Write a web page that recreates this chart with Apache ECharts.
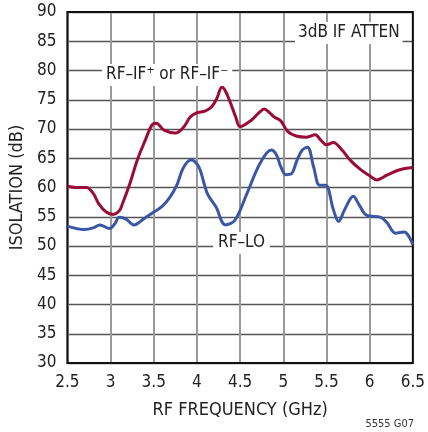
<!DOCTYPE html>
<html>
<head>
<meta charset="utf-8">
<script src="https://cdn.jsdelivr.net/npm/echarts@6/dist/echarts.min.js"></script>
<style>
html,body{margin:0;padding:0;background:#fff;}
#c{width:428px;height:432px;}
</style>
</head>
<body>
<div id="c"></div>
<script>
const xTicks = [2.5, 3, 3.5, 4, 4.5, 5, 5.5, 6, 6.5];
const yTicks = [30, 35, 40, 45, 50, 55, 60, 65, 70, 75, 80, 85, 90];

const rfIfFreq = [2.5, 2.6, 2.72, 2.8, 2.86, 2.95, 3.03, 3.1, 3.14, 3.22, 3.31, 3.4, 3.48, 3.53, 3.62, 3.75, 3.85, 3.92, 3.99, 4.1, 4.17, 4.23, 4.29, 4.33, 4.39, 4.45, 4.5, 4.63, 4.72, 4.78, 4.84, 4.9, 4.97, 5.05, 5.15, 5.27, 5.37, 5.44, 5.5, 5.58, 5.68, 5.78, 5.9, 6.0, 6.08, 6.2, 6.34, 6.5];
const rfIfVals = [60.2, 60.0, 60.0, 59.0, 57.3, 55.8, 55.4, 56.0, 57.3, 60.5, 64.7, 68.0, 70.7, 71.0, 69.8, 69.3, 70.4, 72.0, 72.7, 73.1, 73.8, 75.2, 77.2, 76.5, 74.4, 72.0, 70.4, 71.5, 72.8, 73.4, 72.8, 72.0, 71.4, 69.6, 68.8, 68.6, 69.0, 68.0, 67.3, 67.7, 66.4, 64.6, 63.0, 62.0, 61.3, 62.1, 63.0, 63.4];

const rfLoFreq = [2.5, 2.7, 2.8, 2.875, 2.99, 3.05, 3.1, 3.18, 3.27, 3.39, 3.5, 3.6, 3.69, 3.77, 3.84, 3.93, 3.97, 4.03, 4.12, 4.22, 4.33, 4.44, 4.58, 4.73, 4.86, 4.92, 4.97, 5.03, 5.09, 5.16, 5.22, 5.28, 5.35, 5.42, 5.49, 5.58, 5.64, 5.71, 5.81, 5.88, 5.96, 6.13, 6.2, 6.3, 6.4, 6.5];
const rfLoVals = [53.4, 52.8, 53.1, 53.6, 53.0, 53.8, 54.9, 54.6, 53.6, 54.7, 55.8, 56.8, 58.4, 60.5, 63.3, 64.7, 64.5, 63.3, 59.0, 56.7, 53.6, 54.4, 59.0, 64.1, 66.4, 65.6, 63.6, 62.2, 62.3, 64.7, 66.4, 66.9, 63.6, 60.4, 60.4, 56.2, 54.2, 56.2, 58.5, 57.0, 55.3, 54.9, 54.0, 52.2, 52.4, 50.2];

const seriesNames = ['RF–IF', 'RF–LO'];
const FONT = '"Liberation Sans Narrow", "DejaVu Sans Condensed", "Roboto Condensed", sans-serif';

function pairs(xs, ys) { return xs.map((x, i) => [x, ys[i]]); }

const chart = echarts.init(document.getElementById('c'), null, {renderer: 'canvas'});
chart.setOption({
  animation: false,
  backgroundColor: '#fff',
  grid: {left: 64, right: 12, top: 12, bottom: 69, show: true, borderColor: '#111', borderWidth: 2, z: 3},
  xAxis: {
    type: 'value', min: xTicks[0], max: xTicks[xTicks.length - 1], interval: 0.5,
    name: 'RF FREQUENCY (GHz)', nameLocation: 'middle', nameGap: 38,
    nameTextStyle: {fontFamily: FONT, fontSize: 18, color: '#222'},
    axisLine: {show: false}, axisTick: {show: false},
    axisLabel: {fontFamily: FONT, fontSize: 17, color: '#222', margin: 11,
      formatter: v => String(v)},
    splitLine: {show: true, lineStyle: {color: '#9a9a9a', width: 2}}
  },
  yAxis: {
    type: 'value', min: yTicks[0], max: yTicks[yTicks.length - 1], interval: 5,
    name: 'ISOLATION (dB)', nameLocation: 'middle', nameGap: 33,
    nameTextStyle: {fontFamily: FONT, fontSize: 18, color: '#222'},
    axisLine: {show: false}, axisTick: {show: false},
    axisLabel: {fontFamily: FONT, fontSize: 17, color: '#222', margin: 11},
    splitLine: {show: true, lineStyle: {color: '#555', width: 1.3}}
  },
  graphic: [
    {type: 'text', left: 295, top: 22, z: 10,
      style: {text: '3dB IF ATTEN', font: '17px ' + FONT, fill: '#222',
        backgroundColor: '#fff', padding: [2, 3, 3, 3]}},
    {type: 'text', left: 102, top: 64, z: 10,
      style: {text: 'RF–IF⁺ or RF–IF⁻', font: '17px ' + FONT, fill: '#222',
        backgroundColor: '#fff', padding: [2, 4, 3, 4]}},
    {type: 'text', left: 213, top: 232, z: 10,
      style: {text: 'RF–LO', font: '17px ' + FONT, fill: '#222',
        backgroundColor: '#fff', padding: [2, 5, 3, 5]}},
    {type: 'text', right: 14, bottom: 2, z: 10,
      style: {text: '5555 G07', font: '11px ' + FONT, fill: '#333'}}
  ],
  series: [
    {name: seriesNames[0], type: 'line', data: pairs(rfIfFreq, rfIfVals), smooth: 0.35,
      showSymbol: false, lineStyle: {color: '#9a0b35', width: 3}, z: 5},
    {name: seriesNames[1], type: 'line', data: pairs(rfLoFreq, rfLoVals), smooth: 0.35,
      showSymbol: false, lineStyle: {color: '#3a56a5', width: 3}, z: 5}
  ]
});
</script>
</body>
</html>
